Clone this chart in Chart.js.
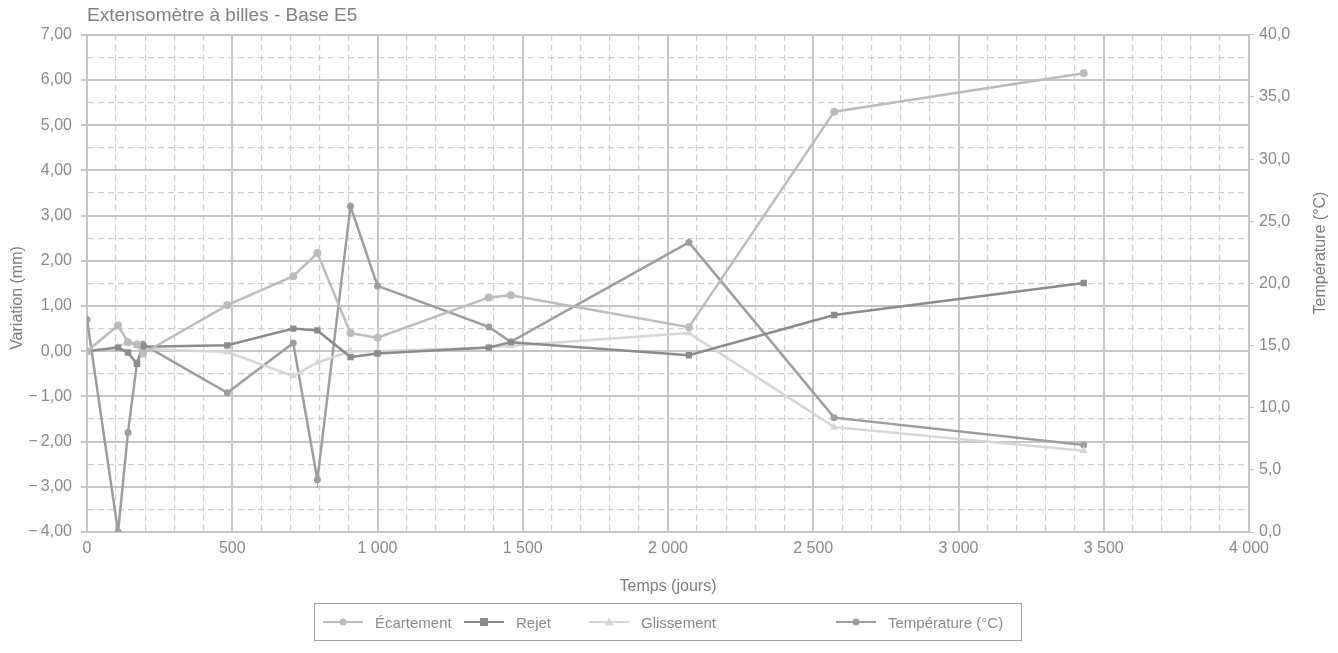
<!DOCTYPE html>
<html lang="fr">
<head>
<meta charset="UTF-8">
<title>Extensomètre à billes - Base E5</title>
<script src="https://cdn.jsdelivr.net/npm/chart.js@4.4.0/dist/chart.umd.min.js"></script>
<style>
  html, body { margin: 0; padding: 0; background: #fff; }
  #wrap { width: 1338px; height: 653px; position: relative; }
  #legend {
    position: absolute; left: 314px; top: 603px; width: 708px; height: 38px;
    box-sizing: border-box; border: 1px solid #a0a0a0;
    font: 15px 'Liberation Sans', Arial, sans-serif; color: #8a8a8a;
  }
  #legend .item { position: absolute; top: 0; height: 100%; display: flex; align-items: center; white-space: nowrap; }
  #legend canvas { margin-right: 12px; }
</style>
</head>
<body>
<div id="wrap">
  <canvas id="chart"></canvas>
  <div id="legend"></div>
</div>
<script>
// temps (jours) and readings
const days = [0, 107, 141, 172, 193, 483, 710, 793, 907, 1000, 1383, 1459, 2072, 2572, 3431];
const ecartement = [0.00, 0.57, 0.20, 0.15, -0.05, 1.02, 1.66, 2.17, 0.40, 0.30, 1.19, 1.24, 0.53, 5.30, 6.15];
const rejet = [0.00, 0.08, -0.03, -0.28, 0.10, 0.13, 0.50, 0.46, -0.13, -0.05, 0.08, 0.20, -0.09, 0.80, 1.51];
const glissement = [0.00, 0.10, 0.20, 0.12, 0.05, -0.02, -0.55, -0.25, 0.00, 0.00, 0.08, 0.12, 0.40, -1.68, -2.20];
const temperature = [17.1, 0.0, 8.0, 13.6, 15.1, 11.2, 15.2, 4.2, 26.2, 19.8, 16.5, 15.3, 23.3, 9.2, 7.0];

const seriesNames = ['Écartement', 'Rejet', 'Glissement', 'Température (°C)'];
const seriesColors = ['#bcbcbc', '#8c8c8c', '#d6d6d6', '#9e9e9e'];
const seriesMarkers = ['circle', 'rect', 'triangle', 'circle'];

const FONT = "'Liberation Sans', Arial, sans-serif";
const TXT = '#8a8a8a';
const GRID_MAJOR = '#c6c6c6';
const GRID_MINOR = '#cfcfcf';

function pts(ys) {
  return days.map((d, i) => ({ x: d, y: ys[i] }));
}

function fmtY(v) {
  const s = Math.abs(v).toFixed(2).replace('.', ',');
  return v < 0 ? '\u2212\u2009' + s : s;
}
function fmtX(v) {
  return String(v).replace(/\B(?=(\d{3})+(?!\d))/g, ' ');
}
function isWhole(v, step) {
  return Math.abs(v / step - Math.round(v / step)) < 1e-6;
}

// line+marker swatch for the legend
function swatch(color, marker) {
  const c = document.createElement('canvas');
  c.width = 40; c.height = 12;
  const g = c.getContext('2d');
  g.strokeStyle = color; g.fillStyle = color; g.lineWidth = 2;
  g.beginPath(); g.moveTo(0, 6); g.lineTo(40, 6); g.stroke();
  g.beginPath();
  if (marker === 'rect') g.rect(16, 2, 8, 8);
  else if (marker === 'triangle') { g.moveTo(20, 1.5); g.lineTo(24.5, 9.5); g.lineTo(15.5, 9.5); g.closePath(); }
  else g.arc(20, 6, 3.5, 0, Math.PI * 2);
  g.fill();
  return c;
}

// legend, boxed like the original
const legendLefts = [8, 149, 274, 521];
const legendEl = document.getElementById('legend');
seriesNames.forEach((name, i) => {
  const it = document.createElement('div');
  it.className = 'item';
  it.style.left = legendLefts[i] + 'px';
  it.appendChild(swatch(seriesColors[i], seriesMarkers[i]));
  it.appendChild(document.createTextNode(name));
  legendEl.appendChild(it);
});

function makeSet(i, data, axis, radius) {
  return {
    label: seriesNames[i],
    data: pts(data),
    yAxisID: axis,
    borderColor: seriesColors[i],
    backgroundColor: seriesColors[i],
    borderWidth: 2.5,
    pointStyle: seriesMarkers[i],
    pointRadius: radius,
    pointBorderWidth: 0,
    tension: 0
  };
}

// both vertical axis titles read bottom to top in the original
const axisTitles = {
  id: 'axisTitles',
  afterDraw(chart) {
    const ctx = chart.ctx;
    ctx.save();
    ctx.fillStyle = '#7c7c7c';
    ctx.font = '16px ' + FONT;
    ctx.textAlign = 'center';
    ctx.textBaseline = 'middle';
    [[18, 298, 'Variation (mm)'], [1321, 253, 'Température (°C)']].forEach(([x, y, t]) => {
      ctx.save();
      ctx.translate(x, y);
      ctx.rotate(-Math.PI / 2);
      ctx.fillText(t, 0, 0);
      ctx.restore();
    });
    ctx.restore();
  }
};

const chart = new Chart(document.getElementById('chart'), {
  type: 'line',
  data: {
    datasets: [
      makeSet(0, ecartement, 'y', 4),
      makeSet(1, rejet, 'y', 4.5),
      makeSet(2, glissement, 'y', 4.5),
      makeSet(3, temperature, 'y1', 3.5)
    ]
  },
  plugins: [axisTitles],
  options: {
    responsive: true,
    maintainAspectRatio: false,
    animation: false,
    layout: { padding: { top: 0, left: 0, right: 0, bottom: 49 } },
    plugins: {
      title: {
        display: true,
        text: 'Extensomètre à billes - Base E5',
        align: 'start',
        fullSize: false,
        color: '#808080',
        font: { family: FONT, size: 19, weight: 'normal' },
        padding: { top: 4, bottom: 8 }
      },
      legend: { display: false },
      tooltip: { enabled: false }
    },
    scales: {
      x: {
        type: 'linear',
        min: 0,
        max: 4000,
        afterFit(s) { s.height = 72; },
        ticks: {
          stepSize: 100,
          maxTicksLimit: 100,
          autoSkip: false,
          maxRotation: 0,
          padding: 7,
          color: TXT,
          font: { family: FONT, size: 16 },
          callback: v => (isWhole(v, 500) ? fmtX(v) : '')
        },
        grid: {
          drawTicks: false,
          color: c => (c.tick && isWhole(c.tick.value, 500) ? GRID_MAJOR : GRID_MINOR),
          lineWidth: c => (c.tick && isWhole(c.tick.value, 500) ? 2 : 1.2)
        },
        border: {
          color: GRID_MAJOR,
          width: 2,
          dash: c => (c.tick && !isWhole(c.tick.value, 500) ? [6, 4] : [])
        },
        title: {
          display: true,
          text: 'Temps (jours)',
          color: '#7c7c7c',
          font: { family: FONT, size: 16 },
          padding: { top: 4, bottom: 8 }
        }
      },
      y: {
        position: 'left',
        min: -4,
        max: 7,
        afterFit(s) { s.width = 87; },
        ticks: {
          stepSize: 0.5,
          maxTicksLimit: 100,
          autoSkip: false,
          padding: 9,
          color: TXT,
          font: { family: FONT, size: 16 },
          callback: v => (isWhole(v, 1) ? fmtY(v) : '')
        },
        grid: {
          tickLength: 6,
          tickColor: c => (c.tick && isWhole(c.tick.value, 1) ? GRID_MAJOR : 'rgba(0,0,0,0)'),
          color: c => (c.tick && isWhole(c.tick.value, 1) ? GRID_MAJOR : GRID_MINOR),
          lineWidth: c => (c.tick && isWhole(c.tick.value, 1) ? 2 : 1.2)
        },
        border: {
          color: GRID_MAJOR,
          width: 2,
          dash: c => (c.tick && !isWhole(c.tick.value, 1) ? [6, 4] : [])
        }
      },
      y1: {
        position: 'right',
        min: 0,
        max: 40,
        afterFit(s) { s.width = 89; },
        ticks: {
          stepSize: 5,
          padding: 5,
          color: TXT,
          font: { family: FONT, size: 16 },
          callback: v => v.toFixed(1).replace('.', ',')
        },
        grid: {
          drawOnChartArea: false,
          tickLength: 5,
          tickColor: GRID_MAJOR
        },
        border: { color: GRID_MAJOR, width: 2 }
      }
    }
  }
});
</script>
</body>
</html>
